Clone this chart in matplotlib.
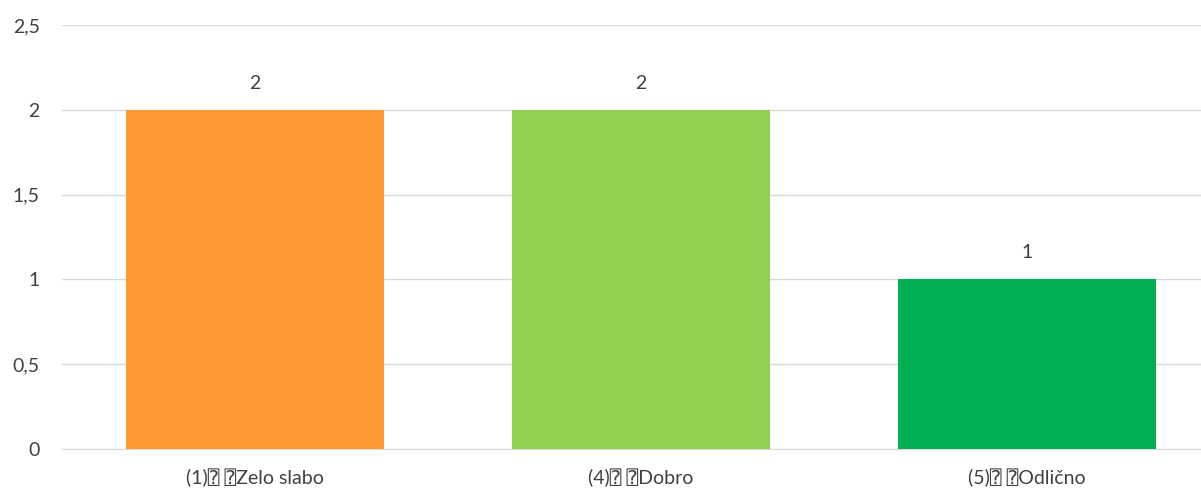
import matplotlib
matplotlib.use("Agg")
import matplotlib.pyplot as plt
import numpy as np

# data
categories = ["(1)\u2370 \u2370Zelo slabo", "(4)\u2370 \u2370Dobro", "(5)\u2370 \u2370Odli\u010dno"]
values = [2, 2, 1]
colors = ["#FF9933", "#92D050", "#00B050"]
yticks = [0, 0.5, 1, 1.5, 2, 2.5]
ytick_labels = ["0", "0,5", "1", "1,5", "2", "2,5"]

plt.rcParams['font.family'] = ['Lato', 'DejaVu Sans', 'DejaVu Sans Mono']
txt = "#404040"

fig = plt.figure(figsize=(12.01, 4.95), dpi=100)
W, H = 1201, 495
# plot area runs a bit past the right edge, as in the reference
ax = fig.add_axes([62 / W, 46 / H, (1220 - 62) / W, (449 - 25) / H])

x = np.arange(len(categories))
ax.bar(x, values, width=0.666, color=colors, zorder=3)

for xi, v in zip(x, values):
    ax.annotate(str(v), (xi, v), xytext=(0, 13), textcoords="offset points",
                ha="center", va="bottom", fontsize=14, color=txt)

ax.set_xlim(-0.5, 2.5)
ax.set_ylim(0, 2.5)
ax.set_yticks(yticks)
ax.set_yticklabels(ytick_labels)
ax.set_xticks(x)
ax.set_xticklabels(categories)
ax.grid(axis="y", color="#D9D9D9", linewidth=1, zorder=0)
ax.tick_params(axis="y", length=0, pad=16, labelsize=14, labelcolor=txt)
ax.tick_params(axis="x", length=0, pad=14, labelsize=14, labelcolor=txt)
for s in ["top", "right", "left"]:
    ax.spines[s].set_visible(False)
ax.spines["bottom"].set_color("#D9D9D9")

fig.savefig("out.png", dpi=100)
